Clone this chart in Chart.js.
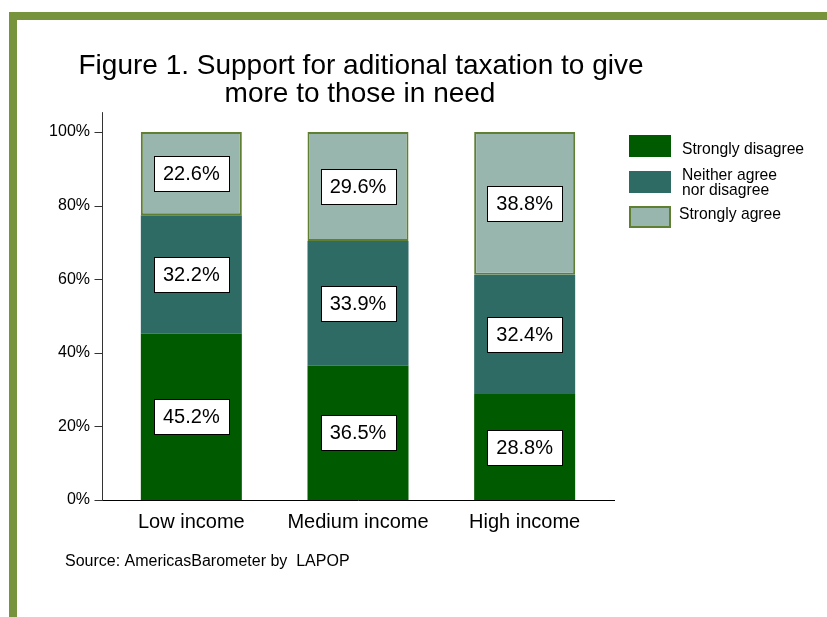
<!DOCTYPE html>
<html>
<head>
<meta charset="utf-8">
<script src="https://cdn.jsdelivr.net/npm/chart.js@4/dist/chart.umd.min.js"></script>
<style>
  html, body { margin: 0; padding: 0; background: #ffffff; }
  #wrap { position: relative; width: 827px; height: 617px; }
</style>
</head>
<body>
<div id="wrap"><canvas id="chart" width="827" height="617"></canvas></div>
<script>
// Income groups and their answer shares (percent)
const categories = ['Low income', 'Medium income', 'High income'];
const seriesNames = ['Strongly disagree', 'Neither agree\nnor disagree', 'Strongly agree'];
const stronglyDisagree = [45.2, 36.5, 28.8];
const neitherAgree = [32.2, 33.9, 32.4];
const stronglyAgree = [22.6, 29.6, 38.8];
const yTicks = [0, 20, 40, 60, 80, 100];
const titleLines = ['Figure 1. Support for aditional taxation to give', 'more to those in need'];
const sourceNote = 'Source: AmericasBarometer by  LAPOP';

const FONT = '"Liberation Sans", Arial, Helvetica, sans-serif';
const FRAME = '#77933C';
const COLORS = ['#005A00', '#2E6B64', '#98B6AE'];
const OLIVE_EDGE = '#5F7F32';

const decorations = {
  id: 'decorations',
  beforeDraw(chart) {
    const ctx = chart.ctx;
    ctx.save();
    ctx.fillStyle = '#ffffff';
    ctx.fillRect(0, 0, chart.width, chart.height);
    // page frame: top and left bars
    ctx.fillStyle = FRAME;
    ctx.fillRect(9, 12, chart.width - 9, 8);
    ctx.fillRect(9, 12, 8, chart.height - 12);

    // two-line title
    ctx.fillStyle = '#000000';
    ctx.font = '28px ' + FONT;
    ctx.textAlign = 'center';
    ctx.textBaseline = 'alphabetic';
    ctx.fillText(titleLines[0], 361, 74);
    ctx.fillText(titleLines[1], 360, 102);
    ctx.restore();
  },
  afterDatasetsDraw(chart) {
    const ctx = chart.ctx;
    const yScale = chart.scales.y;
    const area = chart.chartArea;
    ctx.save();

    // axis lines and tick marks
    ctx.strokeStyle = '#333333';
    ctx.lineWidth = 1;
    const axisX = area.left - 5.5;
    ctx.beginPath();
    ctx.moveTo(axisX, yScale.getPixelForValue(105.4));
    ctx.lineTo(axisX, yScale.getPixelForValue(0) + 0.5);
    yTicks.forEach(v => {
      const py = Math.round(yScale.getPixelForValue(v)) + 0.5;
      ctx.moveTo(axisX - 8, py);
      ctx.lineTo(axisX, py);
    });
    ctx.stroke();
    ctx.strokeStyle = '#000000';
    ctx.beginPath();
    const baseY = Math.round(yScale.getPixelForValue(0)) + 0.5;
    ctx.moveTo(axisX, baseY);
    ctx.lineTo(area.right + 7, baseY);
    ctx.stroke();

    // value boxes centred on each segment
    ctx.font = '20px ' + FONT;
    ctx.textAlign = 'center';
    ctx.textBaseline = 'middle';
    chart.data.datasets.forEach((ds, di) => {
      const meta = chart.getDatasetMeta(di);
      meta.data.forEach((bar, i) => {
        const text = ds.data[i].toFixed(1) + '%';
        const cx = bar.x;
        const cy = (bar.y + bar.base) / 2;
        const w = Math.round(ctx.measureText(text).width + 18);
        const h = 35;
        const bx = Math.round(cx - w / 2) + 0.5;
        const by = Math.round(cy - h / 2) + 0.5;
        ctx.fillStyle = '#ffffff';
        ctx.fillRect(bx, by, w, h);
        ctx.strokeStyle = '#000000';
        ctx.lineWidth = 1;
        ctx.strokeRect(bx, by, w, h);
        ctx.fillStyle = '#000000';
        ctx.fillText(text, cx, cy + 1);
      });
    });

    // legend
    const rows = [
      { top: 135, base: [154] },
      { top: 171, base: [180, 195] },
      { top: 206, base: [219] }
    ];
    ctx.font = '15.7px ' + FONT;
    ctx.textAlign = 'left';
    ctx.textBaseline = 'alphabetic';
    chart.data.datasets.forEach((ds, di) => {
      const r = rows[di];
      ctx.fillStyle = ds.backgroundColor;
      ctx.fillRect(629, r.top, 42, 22);
      if (ds.borderWidth) {
        ctx.strokeStyle = ds.borderColor;
        ctx.lineWidth = 2;
        ctx.strokeRect(630, r.top + 1, 40, 20);
      }
      ctx.fillStyle = '#000000';
      ds.label.split('\n').forEach((line, li) => {
        ctx.fillText(line, di === 2 ? 679 : 682, r.base[li]);
      });
    });

    // source note
    ctx.font = '16px ' + FONT;
    ctx.fillText(sourceNote, 65, 566);
    ctx.restore();
  }
};

new Chart(document.getElementById('chart'), {
  type: 'bar',
  data: {
    labels: categories,
    datasets: [
      { label: seriesNames[0], data: stronglyDisagree, backgroundColor: COLORS[0], borderWidth: 0 },
      { label: seriesNames[1], data: neitherAgree, backgroundColor: COLORS[1], borderWidth: 0 },
      { label: seriesNames[2], data: stronglyAgree, backgroundColor: COLORS[2],
        borderColor: OLIVE_EDGE, borderWidth: 2, borderSkipped: false }
    ]
  },
  options: {
    responsive: false,
    animation: false,
    layout: { padding: { left: 20, right: 219, top: 132, bottom: 77 } },
    datasets: { bar: { categoryPercentage: 1, barPercentage: 0.606 } },
    plugins: {
      legend: { display: false },
      tooltip: { enabled: false },
      title: { display: false }
    },
    scales: {
      x: {
        stacked: true,
        grid: { display: false, drawTicks: false },
        border: { display: false },
        ticks: { color: '#000000', font: { family: FONT, size: 20 }, padding: 10 },
        afterFit(scale) { scale.height = 40; }
      },
      y: {
        stacked: true,
        min: 0,
        max: 100,
        grid: { display: false, drawTicks: false },
        border: { display: false },
        ticks: {
          stepSize: 20,
          color: '#000000',
          padding: 18,
          font: { family: FONT, size: 16 },
          callback: v => v + '%'
        },
        afterFit(scale) { scale.width = 88; }
      }
    }
  },
  plugins: [decorations]
});
</script>
</body>
</html>
